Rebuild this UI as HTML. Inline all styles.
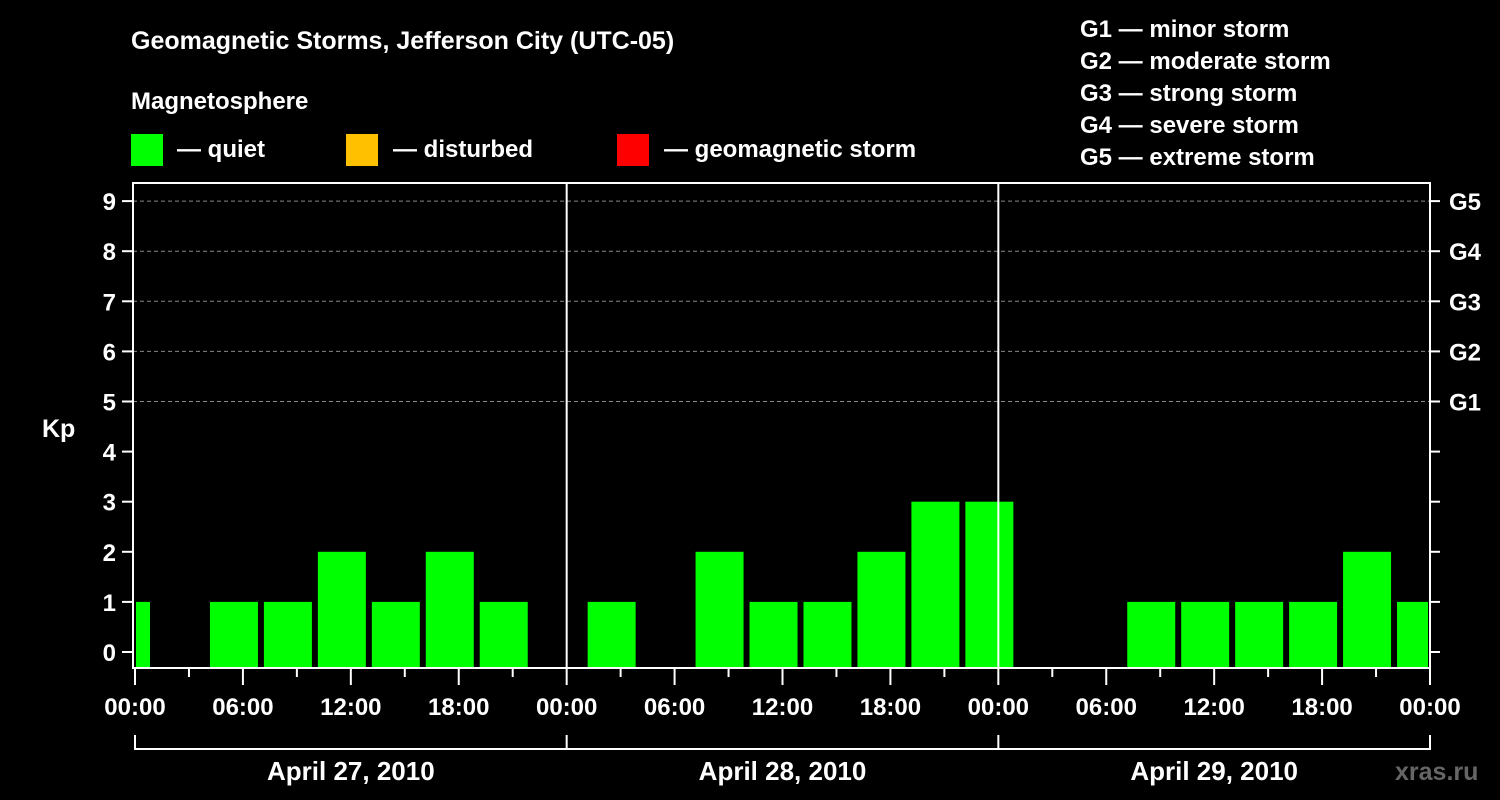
<!DOCTYPE html>
<html><head><meta charset="utf-8"><style>
body{margin:0;background:#000;}
svg{display:block;font-family:"Liberation Sans",Arial,sans-serif;font-weight:bold;}
</style></head><body>
<svg width="1500" height="800" viewBox="0 0 1500 800">
<rect width="1500" height="800" fill="#000"/>
<text x="131" y="49" fill="#fff" font-size="25">Geomagnetic Storms, Jefferson City (UTC-05)</text>
<text x="131" y="109" fill="#fff" font-size="24">Magnetosphere</text>
<g>
<rect x="131" y="134" width="32" height="32" fill="#00ff00"/>
<text x="177" y="157" fill="#fff" font-size="24">— quiet</text>
<rect x="346" y="134" width="32" height="32" fill="#ffc000"/>
<text x="393" y="157" fill="#fff" font-size="24">— disturbed</text>
<rect x="617" y="134" width="32" height="32" fill="#ff0000"/>
<text x="664" y="157" fill="#fff" font-size="24">— geomagnetic storm</text>
</g>
<g fill="#fff" font-size="24">
<text x="1080" y="37">G1 — minor storm</text>
<text x="1080" y="69">G2 — moderate storm</text>
<text x="1080" y="101">G3 — strong storm</text>
<text x="1080" y="133">G4 — severe storm</text>
<text x="1080" y="165">G5 — extreme storm</text>
</g>
<text x="42" y="437" fill="#fff" font-size="25">Kp</text>
<g id="plot"></g>
<text x="1395" y="780" fill="#666" font-size="25">xras.ru</text>
</svg>
<script>
const kpValues=[1,null,1,1,2,1,2,1,null,1,null,2,1,1,2,3,3,null,null,1,1,1,1,2,1];
const yTicks=[0,1,2,3,4,5,6,7,8,9];
const gLabels=["G1","G2","G3","G4","G5"];
const timeLabels=["00:00","06:00","12:00","18:00","00:00","06:00","12:00","18:00","00:00","06:00","12:00","18:00","00:00"];
const dateLabels=["April 27, 2010","April 28, 2010","April 29, 2010"];
const NS="http://www.w3.org/2000/svg";
const L=133,R=1430,T=183,B=668;
const x=h=>135+h*(1295/72);
const y=v=>652-v*50.1;
const g=document.getElementById('plot');
function mk(tag,a){const e=document.createElementNS(NS,tag);for(const k in a)e.setAttribute(k,a[k]);g.appendChild(e);return e;}
// gridlines
for(let v=5;v<=9;v++){const e=mk('line',{x1:L,x2:R,y1:y(v),y2:y(v),stroke:'#888','stroke-dasharray':'4,3','stroke-width':1});

}
// bars
kpValues.forEach((v,i)=>{if(v===null)return;
let x0=x(3*i-2)+3,x1=x0+48;x0=Math.max(x0,136);x1=Math.min(x1,1428);
const r=mk('rect',{x:x0,y:y(v),width:x1-x0,height:667-y(v),fill:'#00ff00'});

});
// frame
const f=mk('path',{d:`M${L},${T}H${R}V${B}H${L}Z`,fill:'none',stroke:'#fff','stroke-width':2});


[1,2].forEach(d=>{const e=mk('line',{x1:x(24*d),x2:x(24*d),y1:T,y2:B,stroke:'#fff','stroke-width':2});

});
// y ticks
yTicks.forEach(v=>{
mk('line',{x1:122,x2:L,y1:y(v),y2:y(v),stroke:'#fff','stroke-width':2});
mk('line',{x1:R,x2:1440,y1:y(v),y2:y(v),stroke:'#fff','stroke-width':2});
const t=mk('text',{x:116,y:y(v)+9,fill:'#fff','font-size':24,'text-anchor':'end'});t.textContent=v;

});
gLabels.forEach((s,i)=>{const t=mk('text',{x:1449,y:y(5+i)+9,fill:'#fff','font-size':24});t.textContent=s;

});
// x ticks
for(let h=0;h<=72;h+=3){const maj=h%6===0;
mk('line',{x1:x(h),x2:x(h),y1:B,y2:maj?685:677,stroke:'#fff','stroke-width':2});}
timeLabels.forEach((s,i)=>{const t=mk('text',{x:x(6*i),y:715,fill:'#fff','font-size':24,'text-anchor':'middle'});t.textContent=s;

});
// date bracket
mk('path',{d:`M${x(0)},735V749H${x(72)}V735M${x(24)},735V749M${x(48)},735V749`,fill:'none',stroke:'#fff','stroke-width':2});
dateLabels.forEach((s,i)=>{const t=mk('text',{x:x(24*i+12),y:780,fill:'#fff','font-size':26,'text-anchor':'middle'});t.textContent=s;

});
</script>
</body></html>
